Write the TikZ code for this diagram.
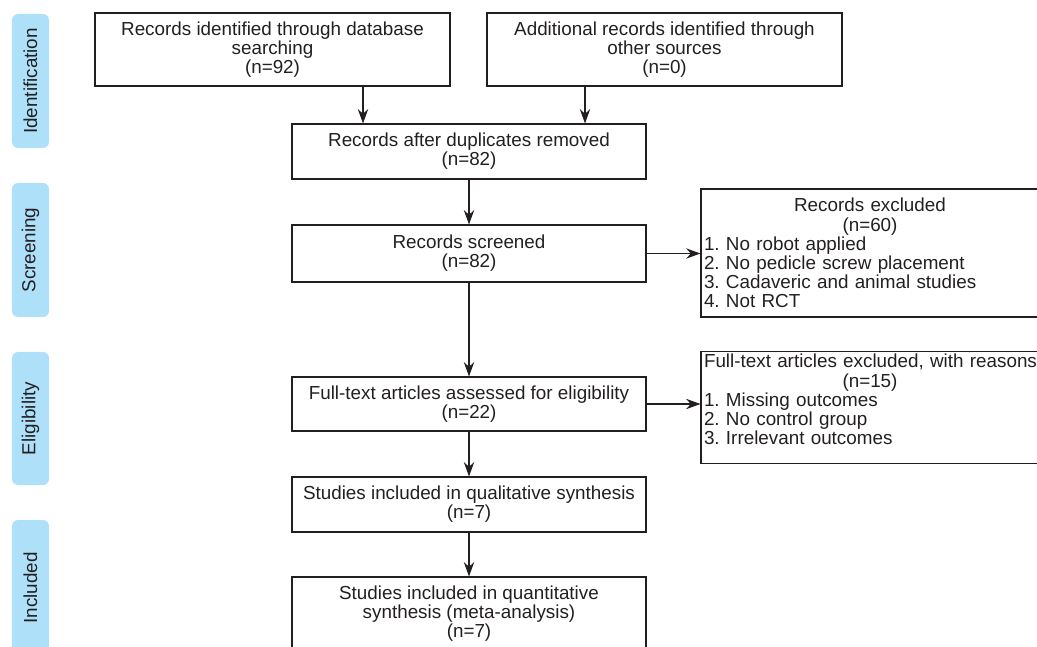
\documentclass[tikz,border=0pt]{standalone}
\usepackage{fontspec}
\setmainfont{Liberation Sans}
\usepackage{tikz}
\usetikzlibrary{arrows.meta,positioning}
\definecolor{phaseblue}{HTML}{AEE1F9}
\definecolor{inkgray}{HTML}{231F20}
\frenchspacing
\tikzset{
  every picture/.style = {
    font=\fontsize{13.4pt}{13.6pt}\selectfont,
    color=inkgray
  },
  flowbox/.style={
    shape = rectangle,
    draw = inkgray,
    line width = 0.8pt,
    align = center,
    inner sep = 0.075cm,
    minimum width = 8.85cm
  },
  exbox/.style={
    shape = rectangle,
    draw = inkgray,
    line width = 0.8pt,
    align = left,
    inner sep = 0.075cm,
    text width = 8.3cm,
    minimum width = 8.45cm
  },
  phase/.style={
    shape = rectangle,
    rounded corners = 0.15cm,
    fill = phaseblue,
    minimum height = 0.925cm,
    rotate = 90,
    inner sep = 0pt
  },
  arr/.style={
    -{Stealth[length=0.36cm,width=0.26cm,inset=0.12cm]},
    line width = 0.8pt,
    draw = inkgray
  }
}

\begin{document}
\begin{tikzpicture}
    \useasboundingbox (0,0) rectangle (25.925,-16.175);
    \clip (0,0) rectangle (25.925,-16.175);

    % phase labels
    \node[phase, minimum width=3.35cm] (idf) at (0.7625,-2.025) {Identification};
    \node[phase, minimum width=3.35cm] (scr) at (0.7625,-6.25) {Screening};
    \node[phase, minimum width=3.325cm] (elg) at (0.7625,-10.4625) {Eligibility};
    \node[phase, minimum width=3.4cm] (inc) at (0.7625,-14.7) {Included};

    % main flow
    \node[flowbox, minimum width=8.875cm, minimum height=1.825cm] (db) at (6.8125,-1.2375)
        {Records identified through database\\searching\\(n=92)};
    \node[flowbox, minimum width=8.875cm, minimum height=1.825cm] (other) at (16.6125,-1.2375)
        {Additional records identified through\\other sources\\(n=0)};
    \node[flowbox, minimum height=1.375cm] (dup) at (11.725,-3.7875)
        {Records after duplicates removed\\(n=82)};
    \node[flowbox, minimum height=1.425cm] (screened) at (11.725,-6.3375)
        {Records screened\\(n=82)};
    \node[flowbox, minimum height=1.35cm] (fulltext) at (11.725,-10.1)
        {Full-text articles assessed for eligibility\\(n=22)};
    \node[flowbox, minimum height=1.375cm] (qual) at (11.725,-12.6125)
        {Studies included in qualitative synthesis\\(n=7)};
    \node[flowbox, minimum height=1.825cm] (quant) at (11.725,-15.3375)
        {Studies included in quantitative\\synthesis (meta-analysis)\\(n=7)};

    % exclusions
    \node[exbox, minimum height=3.2cm] (excl) at (21.75,-6.325)
        {{\centering Records excluded\\(n=60)\par}%
         1. No robot applied\\2. No pedicle screw placement\\3. Cadaveric and animal studies\\4. Not RCT};
    \node[exbox, minimum height=2.775cm] (fexcl) at (21.75,-10.1875)
        {\makebox[\linewidth][l]{Full-text articles excluded, with reasons}\par
         {\centering (n=15)\par}%
         1. Missing outcomes\\2. No control group\\3. Irrelevant outcomes\par\vspace*{0.4cm}};

    % connectors
    \draw[arr] ([xshift=-2.65cm]dup.north |- db.south) -- ([xshift=-2.65cm]dup.north);
    \draw[arr] ([xshift=2.9cm]dup.north |- other.south) -- ([xshift=2.9cm]dup.north);
    \draw[arr] (dup) -- (screened);
    \draw[arr] (screened) -- (fulltext);
    \draw[arr] (fulltext) -- (qual);
    \draw[arr] (qual) -- (quant);
    \draw[arr] (screened.east) -- (screened.east -| excl.west);
    \draw[arr] (fulltext.east) -- (fulltext.east -| fexcl.west);
\end{tikzpicture}
\end{document}
